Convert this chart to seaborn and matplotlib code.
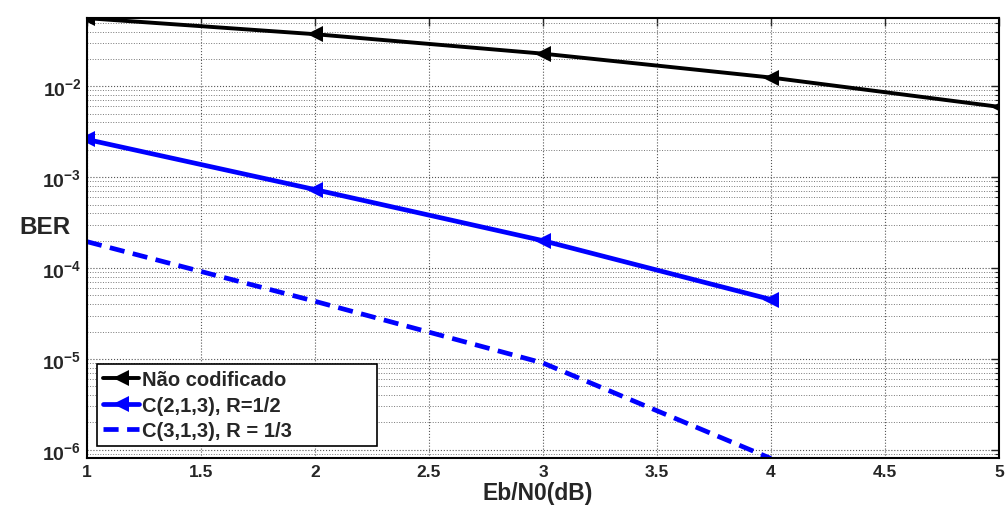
import numpy as np
import pandas as pd
import matplotlib
matplotlib.use("Agg")
import matplotlib.pyplot as plt
import matplotlib.ticker as mticker
import seaborn as sns

# Data
ebn0 = [1, 2, 3, 4, 5]
ber_uncoded = [0.0563, 0.0375, 0.0229, 0.0125, 0.00595]
ebn0_c213 = [1, 2, 3, 4]
ber_c213 = [2.6e-3, 7.3e-4, 2.0e-4, 4.5e-5]
ebn0_c313 = [1, 2, 3, 4]
ber_c313 = [1.95e-4, 4.3e-5, 9.0e-6, 8.0e-7]

labels = ["Não codificado", "C(2,1,3), R=1/2", "C(3,1,3), R = 1/3"]

sns.set_style("white")
plt.rcParams["font.family"] = ["Liberation Sans", "DejaVu Sans"]
plt.rcParams["font.weight"] = "bold"
plt.rcParams["mathtext.fontset"] = "custom"
plt.rcParams["mathtext.bf"] = "Liberation Sans:bold"
plt.rcParams["mathtext.rm"] = "Liberation Sans:bold"

fig = plt.figure(figsize=(10.07, 5.10), dpi=100)
ax = fig.add_axes([0.0864, 0.1, 0.9056, 0.8627])

df1 = pd.DataFrame({"x": ebn0, "y": ber_uncoded})
df2 = pd.DataFrame({"x": ebn0_c213, "y": ber_c213})
df3 = pd.DataFrame({"x": ebn0_c313, "y": ber_c313})

sns.lineplot(data=df1, x="x", y="y", ax=ax, color="black", lw=2.8,
             marker="<", markersize=11, markeredgewidth=0, label=labels[0])
sns.lineplot(data=df2, x="x", y="y", ax=ax, color="#0000ff", lw=3.4,
             marker="<", markersize=12, markeredgewidth=0, label=labels[1])
sns.lineplot(data=df3, x="x", y="y", ax=ax, color="#0000ff", lw=3.4,
             linestyle=(0, (3.2, 1.8)), label=labels[2])

ax.set_yscale("log")
ax.set_xlim(1, 5)
ax.set_ylim(8.1e-7, 0.0565)
ax.set_xticks(np.arange(1, 5.01, 0.5))
ax.set_xticklabels(["1", "1.5", "2", "2.5", "3", "3.5", "4", "4.5", "5"],
                   fontsize=12.5, fontweight="bold")
ax.yaxis.set_major_locator(mticker.LogLocator(base=10, numticks=10))
ax.yaxis.set_minor_locator(mticker.LogLocator(base=10, subs=np.arange(2, 10), numticks=20))
ax.yaxis.set_major_formatter(mticker.FuncFormatter(
    lambda v, p: r"$\mathbf{10^{%d}}$" % int(round(np.log10(v)))))
ax.yaxis.set_minor_formatter(mticker.NullFormatter())

ax.grid(True, which="major", color="#555555", linestyle=":", linewidth=0.8)
ax.grid(True, which="minor", axis="y", color="#777777", linestyle=":", linewidth=0.7)
ax.set_axisbelow(True)

ax.tick_params(which="both", direction="in", top=True, right=True)
ax.tick_params(axis="y", labelsize=14, pad=4)
ax.tick_params(axis="x", pad=4)
ax.tick_params(which="major", length=6, width=1)
ax.tick_params(which="minor", length=3, width=0.8)
for s in ax.spines.values():
    s.set_color("black")
    s.set_linewidth(1.5)

ax.set_xlabel("Eb/N0(dB)", fontsize=16.5, fontweight="bold")
ax.xaxis.set_label_coords(0.494, -0.053)
ax.set_ylabel("BER", fontsize=17.5, fontweight="bold", rotation=0)
ax.yaxis.set_label_coords(-0.046, 0.5)

leg = ax.legend(loc="lower left", bbox_to_anchor=(0.011, 0.027, 0.307, 0), mode="expand",
                fontsize=14.5, frameon=True, fancybox=False, edgecolor="black",
                framealpha=1, handlelength=1.8, handletextpad=0.15, borderpad=0.3,
                labelspacing=0.32, borderaxespad=0)
leg.get_frame().set_linewidth(1.2)
for t in leg.get_texts():
    t.set_fontweight("bold")

fig.savefig("out.png", dpi=100)
